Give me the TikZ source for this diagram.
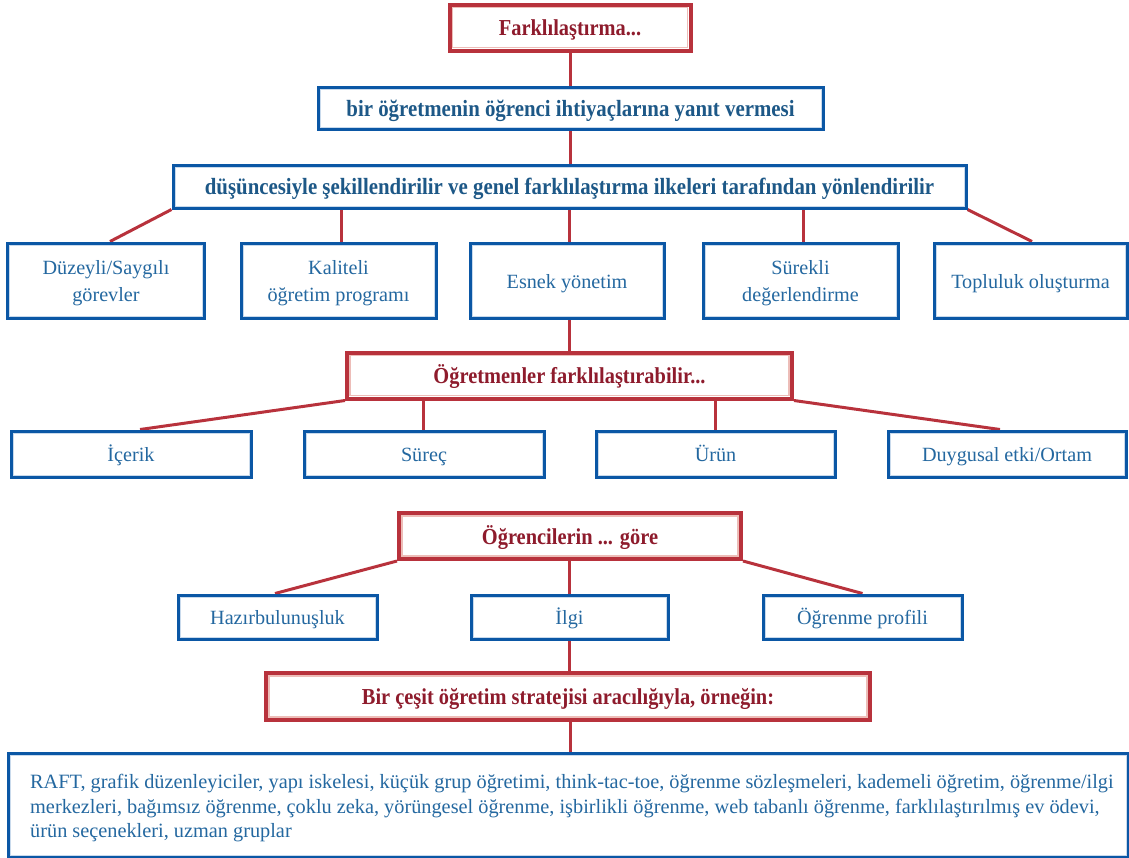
\documentclass[tikz,border=0pt]{standalone}
\usepackage{fontspec}
\setmainfont{Liberation Serif}
\newfontfamily\condserif[FakeStretch=0.895]{Liberation Serif}
\usetikzlibrary{backgrounds}

\definecolor{redline}{HTML}{B8323C}
\definecolor{pinkline}{HTML}{EDBDB8}
\definecolor{redtext}{HTML}{8E1B2C}
\definecolor{blueline}{HTML}{0B57A5}
\definecolor{lightblueline}{HTML}{C9DAEC}
\definecolor{bluetext}{HTML}{2468A0}
\definecolor{boldblue}{HTML}{1D5887}

\tikzset{
  redbox/.style={draw=redline, line width=4pt, fill=white, text=redtext,
    font=\condserif\bfseries\fontsize{22.8}{26}\selectfont, inner sep=0pt,
    text height=16pt, text depth=0pt,
    path picture={\draw[pinkline, line width=1.2pt]
      ([shift={(3pt,-3pt)}]path picture bounding box.north west) rectangle
      ([shift={(-3pt,3pt)}]path picture bounding box.south east);}},
  bluebox/.style={draw=blueline, line width=3pt, fill=white, text=bluetext,
    font=\fontsize{20.2}{27}\selectfont, align=center, inner sep=0pt,
    path picture={\draw[lightblueline, line width=0.8pt]
      ([shift={(2pt,-2pt)}]path picture bounding box.north west) rectangle
      ([shift={(-2pt,2pt)}]path picture bounding box.south east);}},
  oneline/.style={text height=15pt, text depth=0pt},
  twoline/.style={text depth=-3pt},
  bluehead/.style={bluebox, text=boldblue, font=\condserif\bfseries\fontsize{23.3}{26}\selectfont,
    text height=16pt, text depth=0pt},
  extext/.style={text=bluetext, font=\fontsize{20.3}{24.6}\selectfont, align=left, inner sep=0pt},
  link/.style={draw=redline, line width=3pt}
}

\begin{document}
\begin{tikzpicture}[x=1pt,y=-1pt]
\useasboundingbox (0,0) rectangle (1129,857);

% title and first chain
\node[redbox, minimum width=241pt, minimum height=46pt] (top) at (570,27.5) {Farklılaştırma...};
\node[bluehead, minimum width=505pt, minimum height=42pt] (resp) at (570.5,108) {bir öğretmenin öğrenci ihtiyaçlarına yanıt vermesi};
\node[bluehead, minimum width=793pt, minimum height=43pt] (shape) at (569.5,186.5) {düşüncesiyle şekillendirilir ve genel farklılaştırma ilkeleri tarafından yönlendirilir};

% principles
\node[bluebox, twoline, minimum width=197pt, minimum height=75pt] (p1) at (106,280.5) {Düzeyli/Saygılı\\görevler};
\node[bluebox, twoline, minimum width=195pt, minimum height=75pt] (p2) at (338.5,280.5) {Kaliteli\\öğretim programı};
\node[bluebox, oneline, minimum width=194pt, minimum height=75pt] (p3) at (567,280.5) {Esnek yönetim};
\node[bluebox, twoline, minimum width=195pt, minimum height=75pt] (p4) at (800.5,280.5) {Sürekli\\değerlendirme};
\node[bluebox, oneline, minimum width=193pt, minimum height=75pt] (p5) at (1030.5,280.5) {Topluluk oluşturma};

% what teachers differentiate
\node[redbox, minimum width=445pt, minimum height=46pt] (teach) at (569.5,375.5) {Öğretmenler farklılaştırabilir...};
\node[bluebox, oneline, minimum width=240pt, minimum height=46pt] (c1) at (131,454) {İçerik};
\node[bluebox, oneline, minimum width=240pt, minimum height=46pt] (c2) at (424,454) {Süreç};
\node[bluebox, oneline, minimum width=239pt, minimum height=46pt] (c3) at (715.5,454) {Ürün};
\node[bluebox, oneline, minimum width=238pt, minimum height=46pt] (c4) at (1007,454) {Duygusal etki/Ortam};

% according to students
\node[redbox, minimum width=342pt, minimum height=46pt] (stud) at (570,536) {Öğrencilerin ... göre};
\node[bluebox, oneline, minimum width=199pt, minimum height=44pt] (s1) at (277.5,617) {Hazırbulunuşluk};
\node[bluebox, oneline, minimum width=197pt, minimum height=44pt] (s2) at (569.5,617) {İlgi};
\node[bluebox, oneline, minimum width=199pt, minimum height=44pt] (s3) at (862.5,617) {Öğrenme profili};

% strategies
\node[redbox, minimum width=604pt, minimum height=47pt] (strat) at (568,696.5) {Bir çeşit öğretim stratejisi aracılığıyla, örneğin:};
\node[bluebox, anchor=north west, minimum width=1120pt, minimum height=104pt] (ex) at (7,752) {};
\node[extext, anchor=north west] (extxt) at (30,774) {RAFT, grafik düzenleyiciler, yapı iskelesi, küçük grup öğretimi, think-tac-toe, öğrenme sözleşmeleri, kademeli öğretim, öğrenme/ilgi\\
merkezleri, bağımsız öğrenme, çoklu zeka, yörüngesel öğrenme, işbirlikli öğrenme, web tabanlı öğrenme, farklılaştırılmış ev ödevi,\\
ürün seçenekleri, uzman gruplar};

% connectors
\begin{scope}[on background layer]
\draw[link] (top.south) -- (top.south |- resp.north);
\draw[link] (resp.south) -- (resp.south |- shape.north);
\draw[link] (shape.south west) -- ([xshift=4pt]p1.north);
\draw[link] ([xshift=2.5pt]p2.north) -- ([xshift=2.5pt]p2.north |- shape.south);
\draw[link] ([xshift=2pt]p3.north) -- ([xshift=2pt]p3.north |- shape.south);
\draw[link] ([xshift=2.5pt]p4.north) -- ([xshift=2.5pt]p4.north |- shape.south);
\draw[link] (shape.south east) -- ([xshift=1.5pt]p5.north);
\draw[link] ([xshift=2pt]p3.south) -- ([xshift=2pt]p3.south |- teach.north);
\draw[link] (teach.south west) -- ([xshift=9pt]c1.north);
\draw[link] ([xshift=-1pt]c2.north) -- ([xshift=-1pt]c2.north |- teach.south);
\draw[link] (c3.north) -- (c3.north |- teach.south);
\draw[link] (teach.south east) -- ([xshift=-7pt]c4.north);
\draw[link] (stud.south west) -- ([xshift=-2.5pt]s1.north);
\draw[link] (s2.north) -- (s2.north |- stud.south);
\draw[link] (stud.south east) -- (s3.north);
\draw[link] (s2.south) -- (s2.south |- strat.north);
\draw[link] ([xshift=2pt]strat.south) -- ([xshift=2pt]strat.south |- ex.north);
\end{scope}
\end{tikzpicture}
\end{document}
